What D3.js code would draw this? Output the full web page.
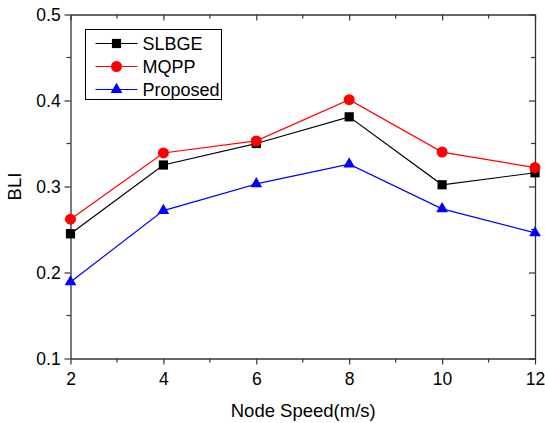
<!DOCTYPE html>
<html>
<head>
<meta charset="utf-8">
<script src="https://cdn.jsdelivr.net/npm/d3@7"></script>
<style>
body { margin: 0; background: #fff; }
text { font-family: "Liberation Sans", Arial, sans-serif; }
</style>
</head>
<body>
<svg id="chart" width="545" height="423"></svg>
<script>
// data
var speeds = [2, 4, 6, 8, 10, 12];
var slbge = [0.245, 0.325, 0.350, 0.381, 0.302, 0.316];
var mqpp = [0.262, 0.339, 0.353, 0.401, 0.340, 0.322];
var proposed = [0.189, 0.272, 0.303, 0.326, 0.274, 0.246];
var xTicks = [2, 4, 6, 8, 10, 12];
var yTicks = [0.1, 0.2, 0.3, 0.4, 0.5];

var series = [
    {name: "SLBGE", values: slbge, color: "#000000", shape: d3.symbolSquare, size: 85},
    {name: "MQPP", values: mqpp, color: "#ff0000", shape: d3.symbolCircle, size: 95},
    {name: "Proposed", values: proposed, color: "#0000ff", shape: d3.symbolTriangle, size: 60}
];

var margin = {top: 14.5, right: 10, bottom: 64.5, left: 70.5};
var width = 545 - margin.left - margin.right;
var height = 423 - margin.top - margin.bottom;

var svg = d3.select("#chart");
var g = svg.append("g")
    .attr("transform", "translate(" + margin.left + "," + margin.top + ")");

var x = d3.scaleLinear().domain([2, 12]).range([0, width]);
var y = d3.scaleLinear().domain([0.1, 0.5]).range([height, 0]);

var axisColor = "#333";
var minorX = d3.range(3, 12, 2);
var minorY = [0.15, 0.25, 0.35, 0.45];

// bottom axis
var axB = g.append("g").attr("transform", "translate(0," + height + ")")
    .call(d3.axisBottom(x).tickValues(xTicks).tickSize(6).tickSizeOuter(0).tickFormat(d3.format("d")));
axB.append("g").attr("class", "minor").selectAll("line").data(minorX).enter().append("line")
    .attr("x1", function(d) { return x(d); }).attr("x2", function(d) { return x(d); })
    .attr("y1", 0).attr("y2", 4);

// left axis
var axL = g.append("g")
    .call(d3.axisLeft(y).tickValues(yTicks).tickSize(6).tickSizeOuter(0).tickFormat(d3.format(".1f")));
axL.append("g").attr("class", "minor").selectAll("line").data(minorY).enter().append("line")
    .attr("y1", function(d) { return y(d); }).attr("y2", function(d) { return y(d); })
    .attr("x1", 0).attr("x2", -4);

// top axis, ticks inside
var axT = g.append("g")
    .call(d3.axisTop(x).tickValues(xTicks).tickSize(-6).tickSizeOuter(0).tickFormat(""));
axT.append("g").attr("class", "minor").selectAll("line").data(minorX).enter().append("line")
    .attr("x1", function(d) { return x(d); }).attr("x2", function(d) { return x(d); })
    .attr("y1", 0).attr("y2", 4);

// right axis, ticks inside
var axR = g.append("g").attr("transform", "translate(" + width + ",0)")
    .call(d3.axisRight(y).tickValues(yTicks).tickSize(-6).tickSizeOuter(0).tickFormat(""));
axR.append("g").attr("class", "minor").selectAll("line").data(minorY).enter().append("line")
    .attr("y1", function(d) { return y(d); }).attr("y2", function(d) { return y(d); })
    .attr("x1", 0).attr("x2", -4);

g.selectAll(".domain").attr("stroke", axisColor).attr("stroke-width", 1.3);
g.selectAll(".tick line, .minor line").attr("stroke", axisColor).attr("stroke-width", 1.2);
g.selectAll(".tick text").attr("font-size", 17.5).attr("fill", "#000")
    .attr("font-family", "Liberation Sans, Arial, sans-serif");
axB.selectAll(".tick text").attr("dy", "1.0em");
axL.selectAll(".tick text").attr("dx", "-0.05em");

// axis labels
svg.append("text")
    .attr("x", margin.left + width / 2 + 0.5).attr("y", 417)
    .attr("text-anchor", "middle").attr("font-size", 18.5)
    .text("Node Speed(m/s)");
svg.append("text")
    .attr("transform", "translate(21," + (margin.top + height / 2) + ") rotate(-90)")
    .attr("text-anchor", "middle").attr("font-size", 18.5)
    .text("BLI");

// lines and markers
var line = d3.line()
    .x(function(d, i) { return x(speeds[i]); })
    .y(function(d) { return y(d); });

series.forEach(function(s) {
    g.append("path")
        .datum(s.values)
        .attr("fill", "none")
        .attr("stroke", s.color)
        .attr("stroke-width", 1.2)
        .attr("d", line);
    g.selectAll(null).data(s.values).enter().append("path")
        .attr("d", d3.symbol().type(s.shape).size(s.size))
        .attr("transform", function(d, i) { return "translate(" + x(speeds[i]) + "," + y(d) + ")"; })
        .attr("fill", s.color);
});

// legend
var legend = svg.append("g").attr("transform", "translate(85.5,29.5)");
legend.append("rect")
    .attr("width", 136).attr("height", 70)
    .attr("fill", "#fff").attr("stroke", "#000").attr("stroke-width", 1);
series.forEach(function(s, i) {
    var ly = 14 + i * 23;
    legend.append("line")
        .attr("x1", 10).attr("x2", 52).attr("y1", ly).attr("y2", ly)
        .attr("stroke", s.color).attr("stroke-width", 1.2);
    legend.append("path")
        .attr("d", d3.symbol().type(s.shape).size(s.size))
        .attr("transform", "translate(31," + ly + ")")
        .attr("fill", s.color);
    legend.append("text")
        .attr("x", 57).attr("y", ly).attr("dy", "0.36em")
        .attr("font-size", 18)
        .text(s.name);
});
</script>
</body>
</html>
